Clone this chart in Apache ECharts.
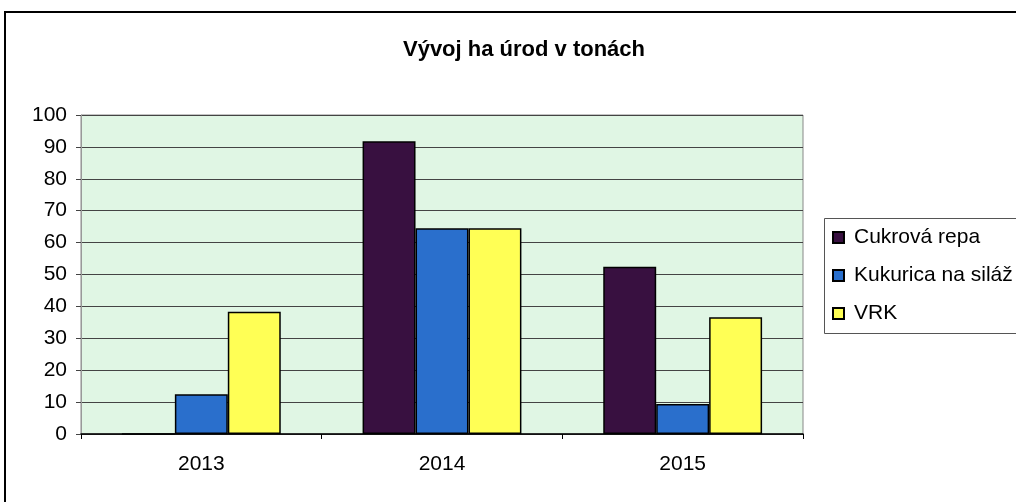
<!DOCTYPE html>
<html>
<head>
<meta charset="utf-8">
<script src="https://cdn.jsdelivr.net/npm/echarts@6/dist/echarts.min.js"></script>
<style>
html,body{margin:0;padding:0;background:#fff;}
#c{width:1016px;height:502px;}
</style>
</head>
<body>
<div id="c"></div>
<script>
const categories = ['2013', '2014', '2015'];
const cukrovaRepa = [0, 91.8, 52.4];
const kukurica = [12.5, 64.5, 9.4];
const vrk = [38.3, 64.5, 36.6];
const seriesNames = ['Cukrová repa', 'Kukurica na siláž', 'VRK'];
const yTicks = [0, 100, 10];

const font = '"Liberation Sans", Arial, sans-serif';
const chart = echarts.init(document.getElementById('c'), null, {renderer: 'canvas'});
const barStyle = (color) => ({color: color, borderColor: '#000', borderWidth: 1.5});
chart.setOption({
  animation: false,
  backgroundColor: '#fff',
  title: {
    text: 'Vývoj ha úrod v tonách',
    left: 519, top: 34, textAlign: 'center',
    textStyle: {fontFamily: font, fontSize: 22, fontWeight: 'bold', color: '#000'}
  },
  graphic: [
    {type: 'rect', shape: {x: 5, y: 12, width: 1100, height: 600}, style: {fill: 'none', stroke: '#000', lineWidth: 2}, z: 100},
    {type: 'rect', shape: {x: 824.5, y: 218.5, width: 300, height: 115}, style: {fill: '#fff', stroke: '#555', lineWidth: 1}, z: 0}
  ],
  legend: {
    orient: 'vertical',
    left: 832, top: 227,
    itemWidth: 11, itemHeight: 11,
    itemGap: 17,
    icon: 'rect',
    padding: 0,
    textStyle: {fontFamily: font, fontSize: 21, color: '#000', lineHeight: 21, padding: [0, 0, 0, 5]},
    data: seriesNames
  },
  grid: {
    left: 81, right: 213, top: 115, bottom: 68,
    show: true, backgroundColor: '#e0f6e4', borderColor: '#888', borderWidth: 1
  },
  xAxis: {
    type: 'category',
    data: categories,
    axisLine: {lineStyle: {color: '#000', width: 1.5}},
    axisTick: {show: true, length: 5, lineStyle: {color: '#000'}},
    axisLabel: {fontFamily: font, fontSize: 21, color: '#000', margin: 20}
  },
  yAxis: {
    type: 'value',
    min: yTicks[0], max: yTicks[1], interval: yTicks[2],
    axisLine: {show: true, lineStyle: {color: '#999'}},
    axisTick: {show: true, length: 5, lineStyle: {color: '#444'}},
    axisLabel: {fontFamily: font, fontSize: 21, color: '#000', margin: 14},
    splitLine: {lineStyle: {color: '#444', width: 1}}
  },
  series: [
    {name: seriesNames[0], type: 'bar', data: cukrovaRepa, barGap: '0%', barCategoryGap: '34%', itemStyle: barStyle('#381040')},
    {name: seriesNames[1], type: 'bar', data: kukurica, barGap: '0%', barCategoryGap: '34%', itemStyle: barStyle('#2a6fcc')},
    {name: seriesNames[2], type: 'bar', data: vrk, barGap: '0%', barCategoryGap: '34%', itemStyle: barStyle('#ffff55')}
  ]
});
</script>
</body>
</html>
